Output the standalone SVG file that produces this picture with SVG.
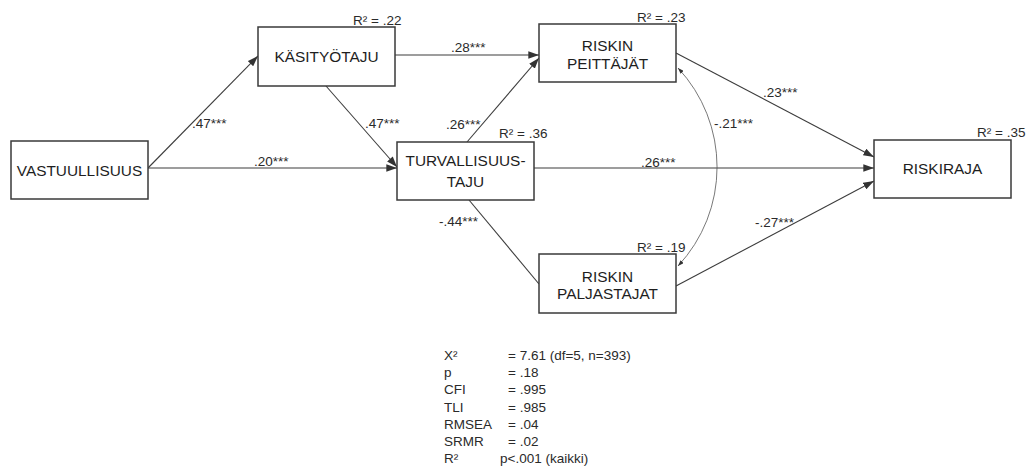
<svg xmlns="http://www.w3.org/2000/svg" width="1027" height="469" viewBox="0 0 1027 469">
  <style>
    .box { fill: #ffffff; stroke: #3a3a3a; stroke-width: 1.5; }
    .name { font-family: "Liberation Sans", Arial, sans-serif; font-size: 15.4px; fill: #1e1e1e; text-anchor: middle; }
    .coef { font-family: "Liberation Sans", Arial, sans-serif; font-size: 13.5px; fill: #2a2a2a; }
    .r2 { font-family: "Liberation Sans", Arial, sans-serif; font-size: 13.5px; fill: #2a2a2a; }
    .stat { font-family: "Liberation Sans", Arial, sans-serif; font-size: 13.5px; fill: #2a2a2a; }
    .path { fill: none; stroke: #3c3c3c; stroke-width: 1.1; }
    .cov { fill: none; stroke: #555555; stroke-width: 0.8; }
  </style>
  <defs>
    <marker id="arrow" viewBox="0 0 10 7" refX="10" refY="3.5" markerWidth="11" markerHeight="7.5" markerUnits="userSpaceOnUse" orient="auto">
      <path d="M0,0 L10,3.5 L0,7 Z" fill="#333333"/>
    </marker>
    <marker id="tip" viewBox="0 0 10 7" refX="10" refY="3.5" markerWidth="6" markerHeight="4.5" markerUnits="userSpaceOnUse" orient="auto-start-reverse">
      <path d="M0,0 L10,3.5 L0,7 Z" fill="#333333"/>
    </marker>
  </defs>

  <rect width="1027" height="469" fill="#ffffff"/>

  <!-- structural paths -->
  <g id="connectors">
    <line class="path" x1="148" y1="168" x2="258" y2="56" marker-end="url(#arrow)"/>
    <line class="path" x1="148" y1="168" x2="397" y2="168" marker-end="url(#arrow)"/>
    <line class="path" x1="326" y1="86" x2="397" y2="167" marker-end="url(#arrow)"/>
    <line class="path" x1="395" y1="55" x2="539" y2="55" marker-end="url(#arrow)"/>
    <line class="path" x1="467" y1="142" x2="539" y2="58" marker-end="url(#arrow)"/>
    <line class="path" x1="534" y1="168" x2="874" y2="168" marker-end="url(#arrow)"/>
    <line class="path" x1="676" y1="53" x2="874" y2="157" marker-end="url(#arrow)"/>
    <line class="path" x1="469" y1="200" x2="539" y2="284"/>
    <line class="path" x1="676" y1="286" x2="874" y2="181" marker-end="url(#arrow)"/>
    <!-- residual covariance between the two risk factors -->
    <path class="cov" d="M678,68 A145,145 0 0 1 678,266" marker-start="url(#tip)" marker-end="url(#tip)"/>

    <text class="coef" x="192" y="128">.47***</text>
    <text class="coef" x="254" y="166">.20***</text>
    <text class="coef" x="365" y="128">.47***</text>
    <text class="coef" x="451" y="52">.28***</text>
    <text class="coef" x="446" y="129">.26***</text>
    <text class="coef" x="641" y="167">.26***</text>
    <text class="coef" x="439" y="226">-.44***</text>
    <text class="coef" x="714" y="128">-.21***</text>
    <text class="coef" x="763" y="97">.23***</text>
    <text class="coef" x="755" y="227">-.27***</text>
  </g>

  <g id="vastuullisuus">
    <rect class="box" x="11" y="141" width="137" height="58"/>
    <text class="name" x="79.5" y="175.5">VASTUULLISUUS</text>
  </g>

  <g id="kasityotaju">
    <rect class="box" x="258" y="27" width="137" height="59"/>
    <text class="name" x="326.5" y="62">KÄSITYÖTAJU</text>
    <text class="r2" x="353" y="25">R² = .22</text>
  </g>

  <g id="turvallisuustaju">
    <rect class="box" x="397" y="142" width="137" height="58"/>
    <text class="name" x="465.5" y="166">TURVALLISUUS-</text>
    <text class="name" x="465.5" y="187">TAJU</text>
    <text class="r2" x="499" y="138">R² = .36</text>
  </g>

  <g id="riskin-peittajat">
    <rect class="box" x="539" y="24" width="137" height="58"/>
    <text class="name" x="607.5" y="51">RISKIN</text>
    <text class="name" x="607.5" y="69">PEITTÄJÄT</text>
    <text class="r2" x="637" y="22">R² = .23</text>
  </g>

  <g id="riskin-paljastajat">
    <rect class="box" x="539" y="254" width="137" height="59"/>
    <text class="name" x="607.5" y="282">RISKIN</text>
    <text class="name" x="607.5" y="299">PALJASTAJAT</text>
    <text class="r2" x="637" y="252">R² = .19</text>
  </g>

  <g id="riskiraja">
    <rect class="box" x="874" y="140" width="137" height="58"/>
    <text class="name" x="942.5" y="174">RISKIRAJA</text>
    <text class="r2" x="977" y="137">R² = .35</text>
  </g>

  <!-- model fit summary -->
  <g id="fit">
    <text class="stat" x="444" y="360">X²</text>
    <text class="stat" x="508" y="360">= 7.61 (df=5, n=393)</text>
    <text class="stat" x="444" y="377">p</text>
    <text class="stat" x="508" y="377">= .18</text>
    <text class="stat" x="444" y="394">CFI</text>
    <text class="stat" x="508" y="394">= .995</text>
    <text class="stat" x="444" y="412">TLI</text>
    <text class="stat" x="508" y="412">= .985</text>
    <text class="stat" x="444" y="429">RMSEA</text>
    <text class="stat" x="508" y="429">= .04</text>
    <text class="stat" x="444" y="446">SRMR</text>
    <text class="stat" x="508" y="446">= .02</text>
    <text class="stat" x="444" y="463">R²</text>
    <text class="stat" x="500" y="463">p&lt;.001 (kaikki)</text>
  </g>
</svg>
